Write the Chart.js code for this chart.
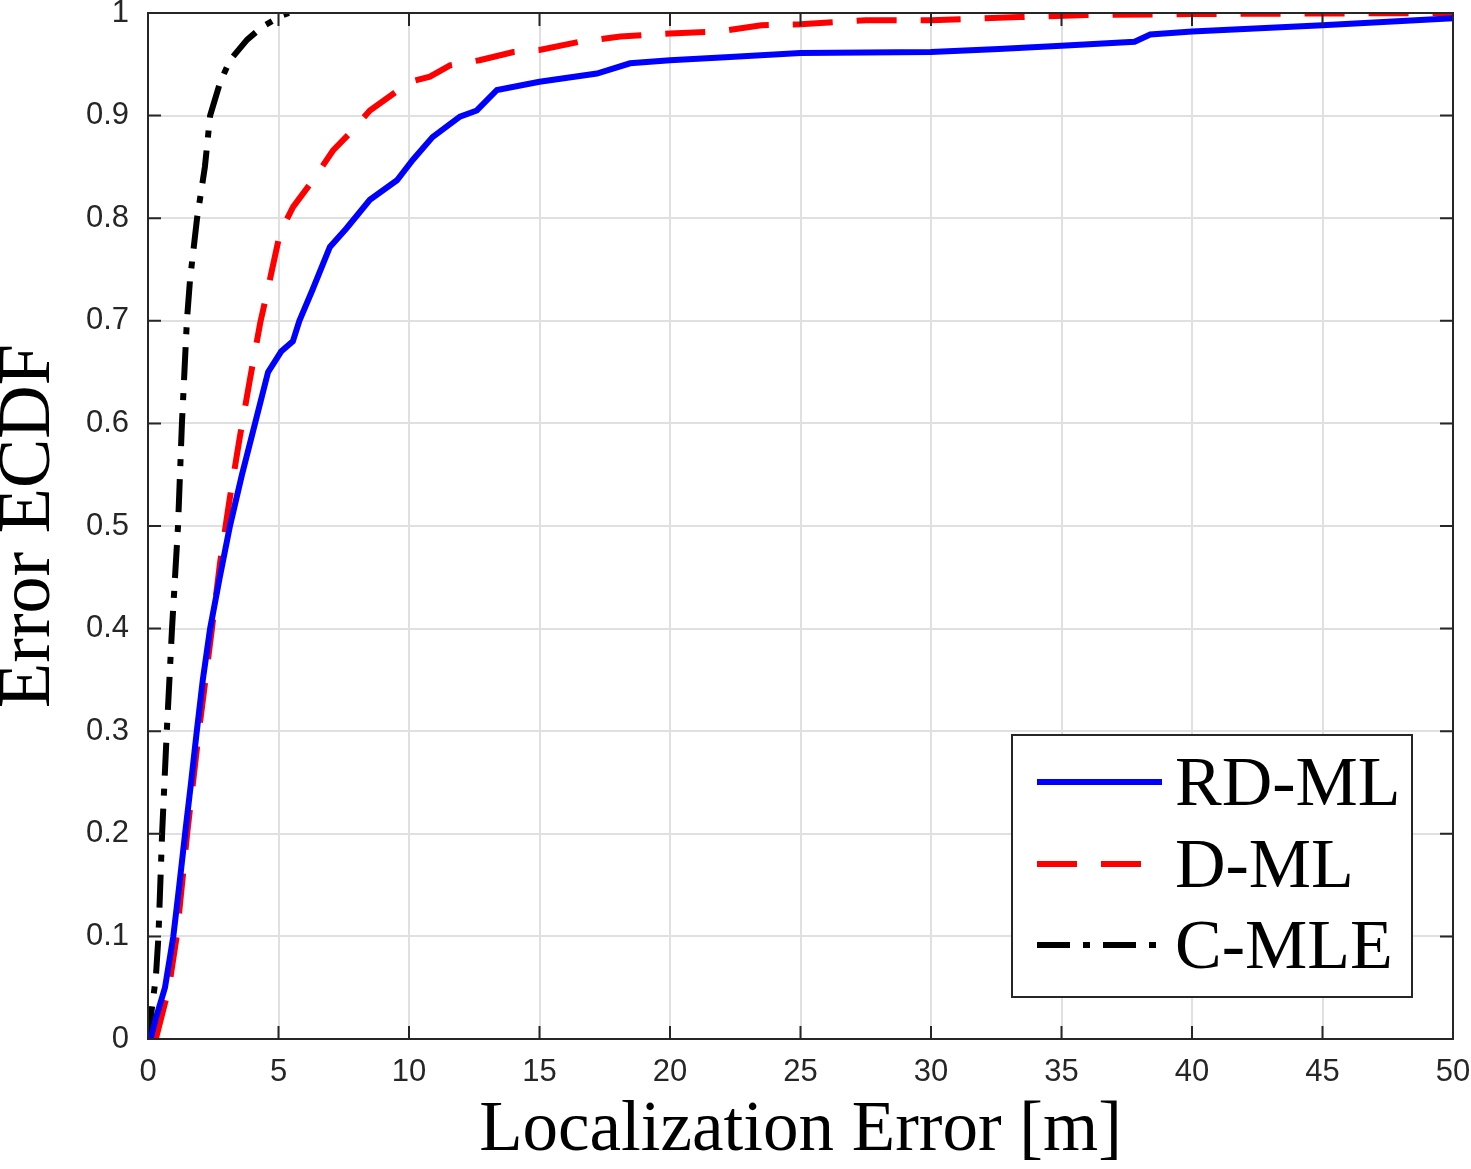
<!DOCTYPE html>
<html>
<head>
<meta charset="utf-8">
<script src="https://cdn.jsdelivr.net/npm/chart.js@4.4.0/dist/chart.umd.min.js"></script>
<style>
  body { margin: 0; background: #fff; }
  canvas { display: block; }
</style>
</head>
<body>
<canvas id="myChart" width="1471" height="1169"></canvas>
<script>
// ECDF curves: x = error [m], y = fraction
const rdmlX = [0.1, 0.3, 0.65, 0.97, 1.2, 1.42, 1.65, 1.87, 2.1, 2.38, 2.75, 3.14, 3.6, 4.1, 4.6, 5.1, 5.55, 5.8, 6.3, 6.97, 7.6, 8.5, 9.54, 10.15, 10.9, 11.95, 12.6, 13.37, 15, 17.2, 18.47, 20, 22.3, 25, 30, 32.6, 35, 37.8, 38.4, 40, 45, 50];
const rdmlY = [0, 0.02, 0.05, 0.1, 0.15, 0.2, 0.25, 0.3, 0.35, 0.4, 0.45, 0.5, 0.55, 0.6, 0.65, 0.67, 0.68, 0.7, 0.73, 0.772, 0.79, 0.818, 0.837, 0.857, 0.879, 0.899, 0.905, 0.925, 0.933, 0.941, 0.951, 0.954, 0.957, 0.961, 0.962, 0.965, 0.968, 0.972, 0.979, 0.982, 0.988, 0.995];

const dmlX = [0.3, 0.5, 0.8, 1.1, 1.5, 1.95, 2.45, 2.76, 3.14, 3.52, 3.9, 4.3, 4.67, 5.06, 5.56, 6.32, 7.09, 7.74, 8.5, 10.04, 10.8, 11.57, 12.7, 14, 15, 16.55, 18.1, 20, 21.9, 23.5, 25, 27.5, 30, 33.4, 36, 40, 50];
const dmlY = [0, 0.02, 0.05, 0.1, 0.2, 0.3, 0.4, 0.464, 0.528, 0.587, 0.642, 0.698, 0.74, 0.786, 0.811, 0.837, 0.866, 0.883, 0.905, 0.933, 0.938, 0.949, 0.954, 0.962, 0.964, 0.972, 0.977, 0.98, 0.982, 0.988, 0.989, 0.993, 0.993, 0.996, 0.998, 0.999, 1.0];

const cmleX = [0, 0.15, 0.3, 0.4, 0.54, 0.72, 0.92, 1.15, 1.3, 1.49, 1.61, 1.88, 2.18, 2.38, 2.76, 3.14, 3.8, 4.4, 5.17, 5.4];
const cmleY = [0, 0.03, 0.06, 0.1, 0.2, 0.3, 0.4, 0.5, 0.6, 0.7, 0.74, 0.8, 0.85, 0.9, 0.932, 0.954, 0.974, 0.987, 0.998, 1.0];

const seriesNames = ['RD-ML', 'D-ML', 'C-MLE'];

const serifFont = '"Liberation Serif", "DejaVu Serif", serif';
const sansFont = '"Liberation Sans", Arial, sans-serif';

function toPoints(xs, ys) {
    return xs.map((x, i) => ({ x: x, y: ys[i] }));
}

// inward tick marks on all four sides (matlab box style)
const boxTicks = {
    id: 'boxTicks',
    afterDraw(chart) {
        const { ctx, chartArea: a, scales } = chart;
        const len = 13;
        ctx.save();
        ctx.strokeStyle = '#262626';
        ctx.lineWidth = 2;
        ctx.beginPath();
        scales.x.ticks.forEach(t => {
            const px = scales.x.getPixelForValue(t.value);
            ctx.moveTo(px, a.bottom); ctx.lineTo(px, a.bottom - len);
            ctx.moveTo(px, a.top); ctx.lineTo(px, a.top + len);
        });
        scales.y.ticks.forEach(t => {
            const py = scales.y.getPixelForValue(t.value);
            ctx.moveTo(a.left, py); ctx.lineTo(a.left + len, py);
            ctx.moveTo(a.right, py); ctx.lineTo(a.right - len, py);
        });
        ctx.stroke();
        ctx.strokeRect(a.left, a.top, a.right - a.left, a.bottom - a.top);
        ctx.restore();
    }
};

// legend box inside the plot, lower right
const boxLegend = {
    id: 'boxLegend',
    afterDraw(chart) {
        const { ctx } = chart;
        const bx = 1012, by = 735, bw = 400, bh = 262;
        ctx.save();
        ctx.fillStyle = '#fff';
        ctx.fillRect(bx, by, bw, bh);
        ctx.strokeStyle = '#262626';
        ctx.lineWidth = 2;
        ctx.strokeRect(bx, by, bw, bh);
        const rows = [782, 864, 945];
        chart.data.datasets.forEach((ds, i) => {
            ctx.strokeStyle = ds.borderColor;
            ctx.lineWidth = ds.borderWidth;
            ctx.setLineDash(ds.borderDash || []);
            ctx.beginPath();
            ctx.moveTo(1037, rows[i]);
            ctx.lineTo(1162, rows[i]);
            ctx.stroke();
            ctx.setLineDash([]);
            ctx.fillStyle = '#000';
            ctx.font = '70px ' + serifFont;
            ctx.textBaseline = 'alphabetic';
            ctx.fillText(ds.label, 1175, rows[i] + 23);
        });
        ctx.restore();
    }
};

const ctx = document.getElementById('myChart').getContext('2d');
const myChart = new Chart(ctx, {
    type: 'line',
    data: {
        datasets: [
            {
                label: seriesNames[0],
                data: toPoints(rdmlX, rdmlY),
                borderColor: '#0000ff',
                borderWidth: 6,
                pointRadius: 0,
                tension: 0
            },
            {
                label: seriesNames[1],
                data: toPoints(dmlX, dmlY),
                borderColor: '#ff0000',
                borderWidth: 6,
                borderDash: [40, 24],
                pointRadius: 0,
                tension: 0
            },
            {
                label: seriesNames[2],
                data: toPoints(cmleX, cmleY),
                borderColor: '#000000',
                borderWidth: 6,
                borderDash: [33, 13, 7, 13],
                pointRadius: 0,
                tension: 0
            }
        ]
    },
    options: {
        responsive: false,
        animation: false,
        layout: { padding: { left: 0, top: 13, right: 18, bottom: 0 } },
        plugins: {
            legend: { display: false },
            tooltip: { enabled: false }
        },
        scales: {
            x: {
                type: 'linear',
                min: 0,
                max: 50,
                ticks: {
                    stepSize: 5,
                    padding: 15,
                    color: '#262626',
                    font: { family: sansFont, size: 31 }
                },
                grid: { color: '#e0e0e0', lineWidth: 2, drawTicks: false },
                border: { display: false },
                title: {
                    display: true,
                    text: 'Localization Error [m]',
                    color: '#000',
                    font: { family: serifFont, size: 71, lineHeight: 1 },
                    padding: { top: 0, bottom: 2 }
                },
                afterFit(scale) {
                    scale.height = 130;
                    scale.paddingLeft = 0;
                    scale.paddingRight = 0;
                }
            },
            y: {
                min: 0,
                max: 1,
                ticks: {
                    stepSize: 0.1,
                    padding: 19,
                    color: '#262626',
                    font: { family: sansFont, size: 31 },
                    callback: v => String(Math.round(v * 10) / 10)
                },
                grid: { color: '#e0e0e0', lineWidth: 2, drawTicks: false },
                border: { display: false },
                title: {
                    display: true,
                    text: 'Error ECDF',
                    color: '#000',
                    font: { family: serifFont, size: 74, lineHeight: 0.8 },
                    padding: { top: 0, bottom: 0 }
                },
                afterFit(scale) {
                    scale.width = 148;
                    scale.paddingTop = 0;
                    scale.paddingBottom = 0;
                }
            }
        }
    },
    plugins: [boxTicks, boxLegend]
});
</script>
</body>
</html>
